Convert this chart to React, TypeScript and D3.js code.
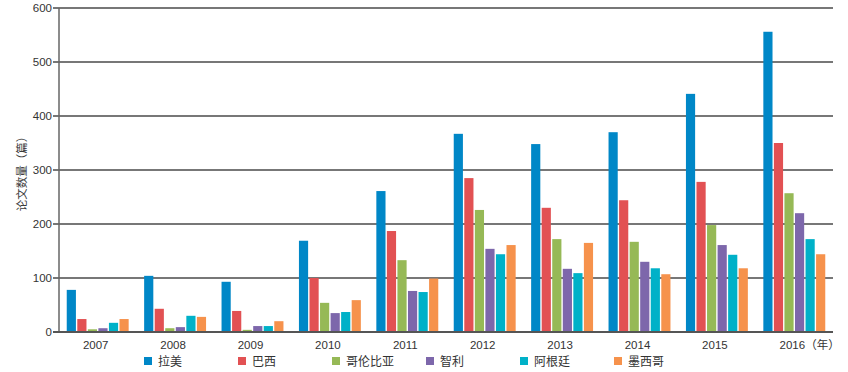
import * as d3 from 'd3';

const years = ['2007', '2008', '2009', '2010', '2011', '2012', '2013', '2014', '2015', '2016'];
const seriesNames = ['拉美', '巴西', '哥伦比亚', '智利', '阿根廷', '墨西哥'];
const seriesColors = ['#0087c7', '#e25153', '#96b956', '#7d67ab', '#00b1c8', '#f6924c'];

const latam = [78, 104, 93, 169, 261, 367, 348, 370, 441, 556];
const brazil = [24, 43, 39, 100, 187, 285, 230, 244, 278, 350];
const colombia = [5, 7, 4, 54, 133, 226, 172, 167, 198, 257];
const chile = [7, 9, 11, 35, 76, 154, 117, 130, 161, 220];
const argentina = [17, 30, 11, 37, 74, 144, 109, 118, 143, 172];
const mexico = [24, 28, 20, 59, 99, 161, 165, 107, 118, 144];
const seriesValues = [latam, brazil, colombia, chile, argentina, mexico];

const yTicks = [0, 100, 200, 300, 400, 500, 600];

const W = 848;
const H = 372;
const left = 59;
const right = 833;
const top = 8;
const bottom = 332;
const font = '"Liberation Sans", Arial, sans-serif';
const cjk = '"Noto Sans CJK SC", "Liberation Sans", sans-serif';

export default function App() {
  const x = d3.scaleBand<string>().domain(years).range([left, right]).paddingInner(0.2).paddingOuter(0.1);
  const xs = d3
    .scaleBand<number>()
    .domain(d3.range(seriesNames.length))
    .range([0, x.bandwidth()])
    .paddingInner(0.13);
  const y = d3.scaleLinear().domain([0, 600]).range([bottom, top]);
  const legendX = d3.scalePoint<string>().domain(seriesNames).range([144, 614]);

  return (
    <svg width={W} height={H} style={{ position: 'absolute', left: 0, top: 0, background: '#fff' }}>
      {/* grid */}
      {yTicks.map(t => (
        <g key={t}>
          <line
            x1={left - 6}
            x2={right}
            y1={y(t)}
            y2={y(t)}
            stroke={t === 0 ? '#555' : '#4a4a4a'}
            strokeWidth={t === 0 ? 2 : 1.3}
          />
          <text x={52} y={y(t) + 4} textAnchor="end" fontSize={11.5} fontFamily={font} fill="#333">
            {t}
          </text>
        </g>
      ))}
      <line x1={left} x2={left} y1={top} y2={bottom} stroke="#666" strokeWidth={1.5} />

      {/* bars */}
      {years.map((yr, i) => (
        <g key={yr} transform={`translate(${x(yr)},0)`}>
          {seriesValues.map((vals, s) => (
            <rect
              key={s}
              x={xs(s)}
              y={y(vals[i])}
              width={xs.bandwidth()}
              height={bottom - y(vals[i])}
              fill={seriesColors[s]}
            />
          ))}
        </g>
      ))}
      <line x1={left - 6} x2={right} y1={bottom} y2={bottom} stroke="#555" strokeWidth={2} />

      {/* x labels */}
      {years.map((yr, i) => {
        const cx = (x(yr) as number) + x.bandwidth() / 2 - 2;
        return (
          <g key={yr}>
            <text x={cx} y={349} textAnchor="middle" fontSize={11.5} fontFamily={font} fill="#333">
              {yr}
            </text>
            {i === years.length - 1 && (
              <text x={cx + 13} y={349} fontSize={11.5} fontFamily={cjk} fill="#333">
                （年）
              </text>
            )}
          </g>
        );
      })}

      {/* y title */}
      <text
        transform="translate(26,171) rotate(-90)"
        textAnchor="middle"
        fontSize={11.5}
        fontFamily={cjk}
        fill="#3a3a3a"
      >
        论文数量（篇）
      </text>

      {/* legend */}
      {seriesNames.map((name, s) => {
        const lx = legendX(name) as number;
        return (
          <g key={name}>
            <rect x={lx} y={357} width={8} height={8} fill={seriesColors[s]} />
            <text x={lx + 14} y={365.5} fontSize={12} fontFamily={cjk} fill="#333">
              {name}
            </text>
          </g>
        );
      })}
    </svg>
  );
}
